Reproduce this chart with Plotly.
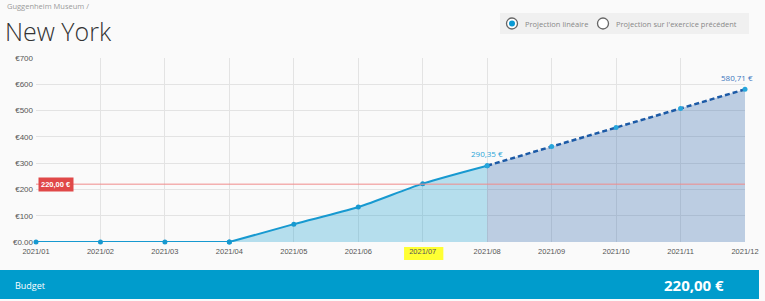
import plotly.graph_objects as go

# ---- data ----
months = ["2021/01", "2021/02", "2021/03", "2021/04", "2021/05", "2021/06",
          "2021/07", "2021/08", "2021/09", "2021/10", "2021/11", "2021/12"]
actual = [0, 0, 0, 0, 68, 133, 222, 290.35]          # Jan..Aug
projection = [290.35, 363, 436, 508, 580.71]         # Aug..Dec
budget = 220
y_ticks = [0, 100, 200, 300, 400, 500, 600, 700]
y_tick_labels = ["€0.00", "€100", "€200", "€300", "€400", "€500", "€600", "€700"]
highlight_month = "2021/07"

# ---- geometry helpers (pixel -> paper) ----
W_PAGE, H_PAGE = 765, 301
L, R, T, B = 36, 20, 58, 59
PW = W_PAGE - L - R
PH = H_PAGE - T - B


def px(x):
    return (x - L) / PW


def py(y):
    return (H_PAGE - B - y) / PH


x_all = list(range(len(months)))
n_act = len(actual)
x_act = x_all[:n_act]
x_proj = x_all[n_act - 1:n_act - 1 + len(projection)]

SOLID = "#1799d0"
DASH = "#1c5aa6"
BG = "#fafafa"

fig = go.Figure()

# flat part (linear)
fig.add_trace(go.Scatter(
    x=x_act[:4], y=actual[:4], mode="lines+markers",
    line=dict(color=SOLID, width=2), marker=dict(size=5, color=SOLID),
    cliponaxis=False, hoverinfo="skip"))
# rising part (smooth) with fill
fig.add_trace(go.Scatter(
    x=x_act[3:], y=actual[3:], mode="lines+markers",
    line=dict(color=SOLID, width=2, shape="spline", smoothing=0.8),
    marker=dict(size=5, color=SOLID),
    fill="tozeroy", fillcolor="rgba(24,160,210,0.30)",
    cliponaxis=False, hoverinfo="skip"))
# projection
fig.add_trace(go.Scatter(
    x=x_proj, y=projection, mode="lines+markers",
    line=dict(color=DASH, width=2.5, dash="5px,3px"),
    marker=dict(size=5, color="#27a6dc"),
    fill="tozeroy", fillcolor="rgba(30,90,165,0.28)",
    cliponaxis=False, hoverinfo="skip"))

shapes = []
# budget line
shapes.append(dict(type="line", xref="x", yref="y", x0=x_all[0], x1=x_all[-1],
                   y0=budget, y1=budget, line=dict(color="#f08a8a", width=1)))
# highlighted tick label background
hi = months.index(highlight_month)
shapes.append(dict(type="rect", xref="x", yref="paper", x0=hi - 0.29, x1=hi + 0.32,
                   y0=py(260), y1=py(247), fillcolor="#ffff33", line=dict(width=0),
                   layer="below"))
# footer bar
shapes.append(dict(type="rect", xref="paper", yref="paper", x0=px(0), x1=px(759),
                   y0=py(299), y1=py(270), fillcolor="#009ccc", line=dict(width=0)))
# radio box
shapes.append(dict(type="rect", xref="paper", yref="paper", x0=px(500), x1=px(749),
                   y0=py(34), y1=py(13), fillcolor="#f0f0f0", line=dict(width=0),
                   layer="below"))
# radio circles
for cx, filled in [(512, True), (603, False)]:
    shapes.append(dict(type="circle", xref="paper", yref="paper",
                       x0=px(cx - 5.5), x1=px(cx + 5.5), y0=py(23.5 + 5.5), y1=py(23.5 - 5.5),
                       fillcolor="white", line=dict(color="#666", width=1.3)))
    if filled:
        shapes.append(dict(type="circle", xref="paper", yref="paper",
                           x0=px(cx - 3), x1=px(cx + 3), y0=py(23.5 + 3), y1=py(23.5 - 3),
                           fillcolor="#0a9ad4", line=dict(width=0)))

annotations = [
    dict(text="Guggenheim Museum /", xref="paper", yref="paper", x=0, xshift=5 - L, y=py(6.5),
         xanchor="left", yanchor="middle", showarrow=False,
         font=dict(family="Open Sans", size=7.5, color="#9a9a9a")),
    dict(text="New York", xref="paper", yref="paper", x=0, xshift=3 - L, y=py(30.5),
         xanchor="left", yanchor="middle", showarrow=False,
         font=dict(family="Open Sans", size=25, color="#333", weight=300)),
    dict(text="Projection linéaire", xref="paper", yref="paper", x=px(523), y=py(23.5),
         xanchor="left", yanchor="middle", showarrow=False,
         font=dict(family="Open Sans", size=7.5, color="#888")),
    dict(text="Projection sur l'exercice précédent", xref="paper", yref="paper",
         x=px(614), y=py(23.5), xanchor="left", yanchor="middle", showarrow=False,
         font=dict(family="Open Sans", size=7.5, color="#888")),
    dict(text="<b>%s €</b>" % f"{budget:.2f}".replace(".", ","), xref="x", yref="y",
         x=x_all[0], y=budget, xanchor="left", yanchor="middle", xshift=2, showarrow=False,
         bgcolor="#e04848", borderpad=2,
         font=dict(family="Liberation Sans", size=7.5, color="white")),
    dict(text=f"{actual[-1]:.2f} €".replace(".", ","), xref="x", yref="y",
         x=x_act[-1], y=actual[-1], yshift=12, xshift=0, showarrow=False,
         font=dict(family="Open Sans", size=8, color="#2aa4d8")),
    dict(text=f"{projection[-1]:.2f} €".replace(".", ","), xref="x", yref="y",
         x=x_proj[-1], y=projection[-1], yshift=12, xshift=-8, showarrow=False,
         font=dict(family="Open Sans", size=8, color="#3a76bd")),
    dict(text="Budget", xref="paper", yref="paper", x=0, xshift=13 - L, y=py(285),
         xanchor="left", yanchor="middle", showarrow=False,
         font=dict(family="Open Sans", size=9, color="white")),
    dict(text="<b>%s €</b>" % f"{budget:.2f}".replace(".", ","), xref="paper", yref="paper",
         x=px(726), y=py(285), xanchor="right", yanchor="middle", showarrow=False,
         font=dict(family="Open Sans", size=15, color="white")),
]

fig.update_layout(
    width=W_PAGE, height=H_PAGE,
    margin=dict(l=L, r=R, t=T, b=B, autoexpand=False),
    paper_bgcolor=BG, plot_bgcolor=BG,
    showlegend=False,
    shapes=shapes, annotations=annotations,
    xaxis=dict(range=[x_all[0], x_all[-1]], tickvals=x_all, ticktext=months,
               showgrid=True, gridcolor="#e3e3e3", gridwidth=1, zeroline=False,
               showline=False, ticks="", ticklabelstandoff=3, automargin=False,
               tickfont=dict(family="Liberation Sans", size=7.5, color="#555"),
               fixedrange=True),
    yaxis=dict(range=[0, 700], tickvals=y_ticks, ticktext=y_tick_labels,
               showgrid=True, gridcolor="#e3e3e3", gridwidth=1, zeroline=False,
               showline=False, ticks="", ticklabelstandoff=2, automargin=False,
               tickfont=dict(family="Liberation Sans", size=8, color="#555"),
               fixedrange=True),
)

fig.write_html("out.html", config={"displayModeBar": False})
